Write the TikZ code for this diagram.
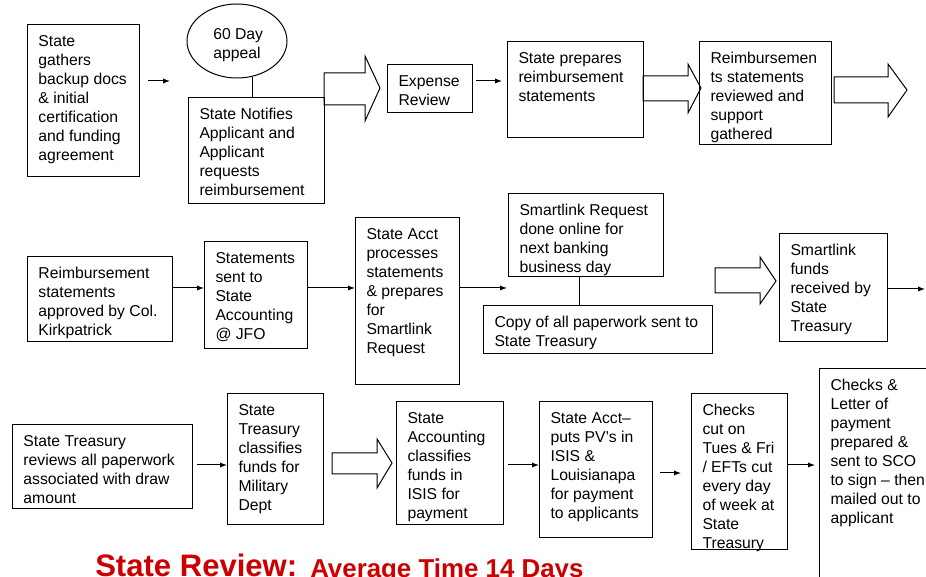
\documentclass[tikz,border=0pt]{standalone}
\usepackage{fontspec}
\setmainfont{Liberation Sans}
\usetikzlibrary{arrows.meta,shapes.geometric}
\newdimen\px \px=0.75pt
\definecolor{titlered}{RGB}{204,0,0}
\newcommand\bx[6]{\node[box] (#1) at (#2,#3) {\parbox[c][\numexpr#5-#3\relax\px][t]{\numexpr#4-#2\relax\px}{\vspace*{9\px}\hspace*{11\px}\begin{tabular}[t]{@{}l@{}}#6\end{tabular}}};}
\newcommand\barrow[8]{\draw[blk] (#1,#4) -- (#2,#4) -- (#2,#6) -- (#3,#8) -- (#2,#7) -- (#2,#5) -- (#1,#5) -- cycle;}
\begin{document}
\begin{tikzpicture}[x=0.75pt,y=-0.75pt,
  every node/.style={font=\fontsize{11.8pt}{14.25pt}\selectfont},
  box/.style={draw, line width=0.75pt, anchor=north west, inner sep=0pt},
  arr/.style={line width=0.75pt, -{Latex[length=5.25pt,width=3.9pt]}},
  link/.style={line width=0.75pt},
  blk/.style={line width=0.75pt, line join=miter},
  ttl/.style={anchor=base west, inner sep=0pt, text=titlered}]
\useasboundingbox (0,0) rectangle (926,577);
\clip (0,0) rectangle (926,577);
% ---------- row 1
\bx{a}{27}{24}{139}{176}{State\\gathers\\backup docs\\\& initial\\certification\\and funding\\agreement}
\node[draw, ellipse, line width=0.75pt, minimum width=75pt, minimum height=55.5pt, inner sep=0pt] (appeal) at (237,41) {};
\node[anchor=base west, inner sep=0pt] (appealtxt) at (213,39.3) {\begin{tabular}[t]{@{}l@{}}60 Day\\appeal\end{tabular}};
\bx{notify}{188}{97}{324}{203}{State Notifies\\Applicant and\\Applicant\\requests\\reimbursement}
\draw[link] (appeal.-67) -- (appeal.-67 |- notify.north);
\draw[arr, shorten <=6pt, shorten >=13.5pt] (a.east |- 0,81) -- (notify.west |- 0,81);
\barrow{324}{365}{380}{73}{105}{56}{121}{88}
\bx{expense}{387}{64}{472}{112}{Expense\\Review}
\bx{prep}{507}{41}{643}{137}{State prepares\\reimbursement\\statements}
\draw[arr, shorten <=2.25pt, shorten >=3.75pt] (expense.east |- 0,81) -- (prep.west |- 0,81);
\barrow{643}{688}{701}{76}{101}{64}{113}{88}
\bx{reim}{699}{41}{831}{144}{Reimbursemen\\ts statements\\reviewed and\\support\\gathered}
\barrow{834}{888}{907}{77}{103}{64}{117}{90}
% ---------- row 2
\bx{appr}{27}{256}{172}{341}{Reimbursement\\statements\\approved by Col.\\Kirkpatrick}
\bx{sent}{204}{241}{307}{348}{Statements\\sent to\\State\\Accounting\\@ JFO}
\bx{acct}{355}{217}{459}{384}{State Acct\\processes\\statements\\\& prepares\\for\\Smartlink\\Request}
\draw[arr] (appr.east |- 0,288) -- (sent.west |- 0,288);
\draw[arr] (sent.east |- 0,288) -- (acct.west |- 0,288);
\bx{smreq}{508}{193}{663}{276}{Smartlink Request\\done online for\\next banking\\business day}
\bx{copy}{483}{305}{712}{353}{Copy of all paperwork sent to\\State Treasury}
\coordinate (acctend) at (507,288);
\draw[arr] (acct.east |- acctend) -- (acctend);
\draw[link] (smreq.south -| 579,0) -- (copy.north -| 579,0);
\barrow{715}{760}{776}{268}{293}{257}{304}{281}
\bx{funds}{779}{233}{887}{341}{Smartlink\\funds\\received by\\State\\Treasury}
\coordinate (fundsend) at (925,289);
\draw[arr] (funds.east |- fundsend) -- (fundsend);
% ---------- row 3
\bx{rev}{12}{424}{192}{508}{State Treasury\\reviews all paperwork\\associated with draw\\amount}
\bx{cls}{227}{393}{323}{524}{State\\Treasury\\classifies\\funds for\\Military\\Dept}
\draw[arr, shorten <=3pt] (rev.east |- 0,465) -- (cls.west |- 0,465);
\barrow{332}{377}{392}{453}{474}{439}{488}{463}
\bx{isis}{396}{401}{503}{524}{State\\Accounting\\classifies\\funds in\\ISIS for\\payment}
\bx{pv}{539}{401}{652}{537}{State Acct--\\puts PV’s in\\ISIS \&\\Louisianapa\\for payment\\to applicants}
\draw[arr, shorten <=3pt] (isis.east |- 0,465) -- (pv.west |- 0,465);
\bx{cut}{691}{393}{787}{549}{Checks\\cut on\\Tues \& Fri\\/ EFTs cut\\every day\\of week at\\State\\Treasury}
\draw[arr, shorten <=5.25pt, shorten >=7.5pt] (pv.east |- 0,473) -- (cut.west |- 0,473);
\bx{letter}{819}{368}{935}{585}{Checks \&\\Letter of\\payment\\prepared \&\\sent to SCO\\to sign -- then\\mailed out to\\applicant}
\draw[arr, shorten >=3pt] (cut.east |- 0,465) -- (letter.west |- 0,465);
% ---------- title
\node[ttl, font=\fontsize{23.3pt}{28pt}\selectfont\bfseries] (t1) at (95,577) {State Review:};
\node[ttl, font=\fontsize{19.4pt}{24pt}\selectfont\bfseries] (t2) at (310,578) {Average Time 14 Days};
\end{tikzpicture}
\end{document}
